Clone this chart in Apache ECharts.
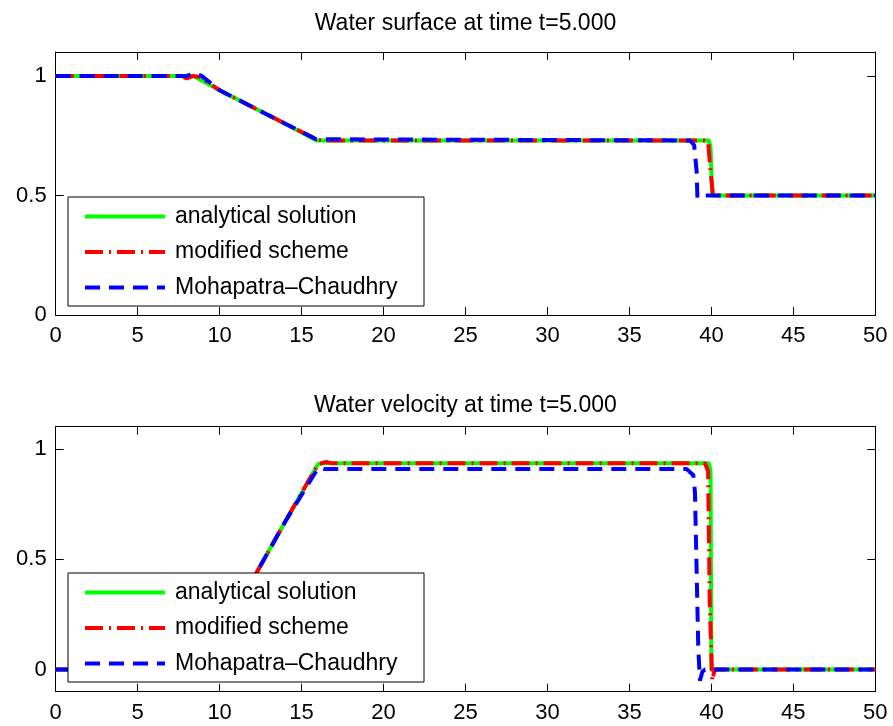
<!DOCTYPE html>
<html>
<head>
<meta charset="utf-8">
<script src="https://cdn.jsdelivr.net/npm/echarts@6/dist/echarts.min.js"></script>
<style>
  html, body { margin: 0; padding: 0; background: #fff; }
  #chart { width: 893px; height: 726px; }
</style>
</head>
<body>
<div id="chart"></div>
<script>
// water surface, t = 5
const hExactX = [0, 8.4, 10, 12, 14, 15.9, 39.85, 39.95, 40.05, 50]
const hExact  = [1, 1, 0.94, 0.87, 0.8, 0.73, 0.73, 0.7, 0.5, 0.5]
const hModX = [0, 7.6, 8.0, 8.4, 8.8, 10, 12, 14, 15.9, 16.3, 39.6, 39.8, 39.95, 40.1, 50]
const hMod  = [1, 1, 0.99, 1.0, 0.995, 0.94, 0.87, 0.8, 0.735, 0.73, 0.73, 0.725, 0.6, 0.5, 0.5]
const hMcX = [0, 8.0, 8.5, 8.9, 10, 12, 14, 15.9, 16.3, 38.7, 38.95, 39.1, 39.15, 39.3, 39.6, 50]
const hMc  = [1, 1, 1.012, 1.0, 0.94, 0.87, 0.8, 0.735, 0.735, 0.73, 0.71, 0.6, 0.49, 0.495, 0.5, 0.5]

// water velocity, t = 5
const uExactX = [0, 8.9, 10, 12.26, 14, 16.0, 16.3, 39.85, 39.95, 40.0, 50]
const uExact  = [0, 0, 0.14, 0.44, 0.67, 0.93, 0.935, 0.935, 0.9, 0, 0]
const uModX = [0, 8.9, 10, 12.26, 14, 16.0, 16.5, 16.8, 39.6, 39.8, 39.9, 40.05, 40.2, 50]
const uMod  = [0, 0, 0.14, 0.44, 0.67, 0.93, 0.94, 0.935, 0.935, 0.9, 0.3, -0.05, 0, 0]
const uMcX = [0, 8.9, 10, 12.26, 14, 15.9, 16.1, 16.4, 38.5, 38.9, 39.0, 39.2, 39.3, 39.45, 39.6, 50]
const uMc  = [0, 0, 0.14, 0.44, 0.67, 0.9, 0.915, 0.908, 0.908, 0.88, 0.8, 0.1, -0.05, -0.01, 0, 0]

const names = ['analytical solution', 'modified scheme', 'Mohapatra–Chaudhry']
const xTicks = [0, 5, 10, 15, 20, 25, 30, 35, 40, 45, 50]
const yTicks = [0, 0.5, 1]

const font = 'Liberation Sans, Arial, Helvetica, sans-serif'
const zip = (xs, ys) => xs.map((x, i) => [x, ys[i]])

const lineStyles = [
  { color: '#00ff00', width: 4, type: 'solid' },
  { color: '#ff0000', width: 4, type: [18, 6, 2, 6], cap: 'butt' },
  { color: '#0000ff', width: 4, type: [15, 9], cap: 'butt' }
]

function mkSeries(idx, sets) {
  return sets.map((d, i) => ({
    name: names[i],
    type: 'line',
    xAxisIndex: idx * 2,
    yAxisIndex: idx * 2,
    data: d,
    symbol: 'none',
    showSymbol: false,
    lineStyle: lineStyles[i],
    itemStyle: { color: lineStyles[i].color },
    z: 2
  }))
}

const gridTops = [52, 426.7]
const gridHeights = [263, 265]
const yRanges = [[0, 1.1], [-0.1, 1.1]]

const tick = { show: true, inside: true, length: 8, lineStyle: { color: '#000', width: 1 } }
const line = { show: true, onZero: false, lineStyle: { color: '#000', width: 1 } }

const xAxes = [], yAxes = []
for (let g = 0; g < 2; g++) {
  xAxes.push({
    type: 'value', gridIndex: g, position: 'bottom', min: 0, max: 50, interval: 5,
    axisLine: line, axisTick: tick, splitLine: { show: false },
    axisLabel: { color: '#000', fontFamily: font, fontSize: 22, margin: 10, customValues: xTicks }
  })
  xAxes.push({
    type: 'value', gridIndex: g, position: 'top', min: 0, max: 50, interval: 5,
    axisLine: line, axisTick: tick, splitLine: { show: false }, axisLabel: { show: false }
  })
  yAxes.push({
    type: 'value', gridIndex: g, position: 'left', min: yRanges[g][0], max: yRanges[g][1],
    axisLine: line, splitLine: { show: false },
    axisTick: Object.assign({ customValues: yTicks }, tick),
    axisLabel: { color: '#000', fontFamily: font, fontSize: 22, margin: 9, customValues: yTicks }
  })
  yAxes.push({
    type: 'value', gridIndex: g, position: 'right', min: yRanges[g][0], max: yRanges[g][1],
    axisLine: line, splitLine: { show: false },
    axisTick: Object.assign({ customValues: yTicks }, tick),
    axisLabel: { show: false }
  })
}

const legendTops = [197, 573]

const option = {
  animation: false,
  backgroundColor: '#fff',
  title: [
    { text: 'Water surface at time t=5.000', left: 465.5, top: 13, textAlign: 'center', padding: 0,
      textStyle: { color: '#000', fontFamily: font, fontSize: 23, fontWeight: 'normal', lineHeight: 22 } },
    { text: 'Water velocity at time t=5.000', left: 465.5, top: 395, textAlign: 'center', padding: 0,
      textStyle: { color: '#000', fontFamily: font, fontSize: 23, fontWeight: 'normal', lineHeight: 22 } }
  ],
  grid: gridTops.map((t, i) => ({ left: 55.7, right: 17.7, top: t, height: gridHeights[i] })),
  xAxis: xAxes,
  yAxis: yAxes,
  legend: legendTops.map(t => ({
    data: names,
    orient: 'vertical',
    left: 68,
    top: t,
    z: 10,
    itemWidth: 80,
    itemHeight: 14,
    itemGap: 12.5,
    padding: [8, 5, 7, 15],
    backgroundColor: '#fff',
    borderColor: '#000',
    borderWidth: 1,
    borderRadius: 0,
    selectedMode: false,
    itemStyle: { opacity: 0 },
    lineStyle: { width: 4 },
    textStyle: { color: '#000', fontFamily: font, fontSize: 23, lineHeight: 22, width: 244, padding: [0, 0, 0, 5] }
  })),
  series: [
    ...mkSeries(0, [zip(hExactX, hExact), zip(hModX, hMod), zip(hMcX, hMc)]),
    ...mkSeries(1, [zip(uExactX, uExact), zip(uModX, uMod), zip(uMcX, uMc)])
  ]
}

const chart = echarts.init(document.getElementById('chart'), null, { renderer: 'canvas' })
chart.setOption(option)
</script>
</body>
</html>
